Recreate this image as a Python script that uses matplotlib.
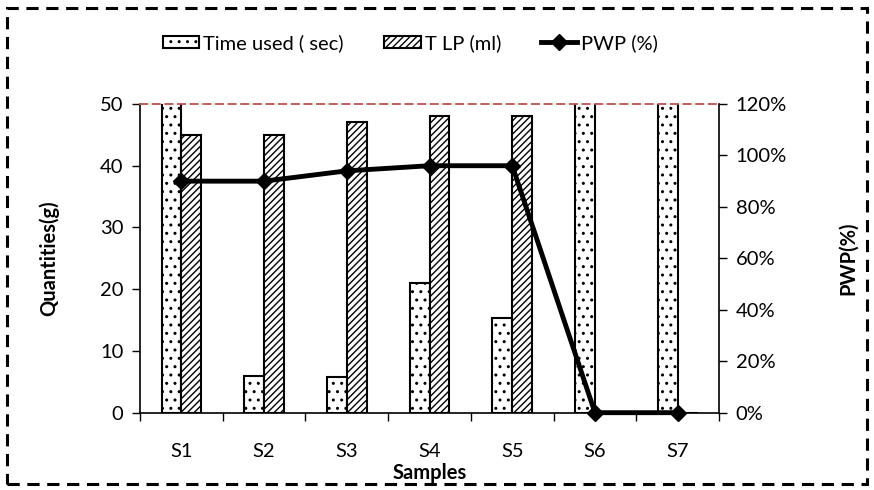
import matplotlib
matplotlib.use("Agg")
import matplotlib.pyplot as plt
import numpy as np
from matplotlib.ticker import PercentFormatter, FixedLocator
from matplotlib.lines import Line2D
from matplotlib.patches import Patch, Rectangle

plt.rcParams['font.family'] = ['Lato', 'DejaVu Sans']
plt.rcParams['hatch.linewidth'] = 1.0

categories = ["S1", "S2", "S3", "S4", "S5", "S6", "S7"]
time_used = [60, 6.0, 5.8, 21.0, 15.3, 60, 60]
tlp = [45, 45, 47, 48, 48, 0, 0]
pwp = [0.90, 0.90, 0.94, 0.96, 0.96, 0.0, 0.0]
y_ticks = [0, 10, 20, 30, 40, 50]
y2_ticks = [0, 0.2, 0.4, 0.6, 0.8, 1.0, 1.2]

FS = 14.5

fig = plt.figure(figsize=(8.74, 4.9), dpi=100)
ax = fig.add_axes([0.1602, 0.1578, 0.6625, 0.63])
x = np.arange(len(categories))
w = 0.24
ax.bar(x - w / 2, time_used, w, facecolor='white', edgecolor='black',
       linewidth=1.5, hatch='..', label='Time used ( sec)')
ax.bar(x + w / 2, tlp, w, facecolor='white', edgecolor='black',
       linewidth=1.5, hatch='/////', label='T LP (ml)')
ax.set_ylim(0, 50)
ax.set_xlim(-0.5, len(categories) - 0.5)
ax.set_yticks(y_ticks)
ax.set_xticks(x)
ax.set_xticklabels(categories)
ax.xaxis.set_minor_locator(FixedLocator(np.arange(-0.5, len(categories), 1.0)))
ax.tick_params(axis='x', which='major', length=0, pad=22, labelsize=FS)
ax.tick_params(axis='x', which='minor', length=6, width=1, direction='out')
ax.tick_params(axis='y', length=6, width=1, direction='out', labelsize=FS, pad=6)

for s in ['left', 'bottom', 'right']:
    ax.spines[s].set_color('black')
    ax.spines[s].set_linewidth(1.2)
ax.spines['top'].set_color('#c0504d')
ax.spines['top'].set_linestyle((0, (4, 3)))
ax.spines['top'].set_linewidth(1.3)

ax2 = ax.twinx()
ax2.plot(x, pwp, color='black', linewidth=3.5, marker='D', markersize=8,
         clip_on=False, zorder=5)
ax2.set_ylim(0, 1.2)
ax2.set_yticks(y2_ticks)
ax2.yaxis.set_major_formatter(PercentFormatter(1.0, decimals=0))
ax2.tick_params(axis='y', length=6, width=1, direction='out', labelsize=FS, pad=6)
for s in ax2.spines.values():
    s.set_visible(False)

ax.set_ylabel('Quantities(g)', fontsize=FS, fontweight='bold')
ax.yaxis.set_label_coords(-0.14, 0.5)
ax2.set_ylabel('PWP(%)', fontsize=FS, fontweight='bold')
ax2.yaxis.set_label_coords(1.205, 0.5)
ax.set_xlabel('Samples', fontsize=FS, fontweight='bold')
ax.xaxis.set_label_coords(0.5, -0.163)

handles = [
    Patch(facecolor='white', edgecolor='black', hatch='..', linewidth=1.5),
    Patch(facecolor='white', edgecolor='black', hatch='/////', linewidth=1.5),
    Line2D([0], [0], color='black', linewidth=3.5, marker='D', markersize=8),
]
labels = ['Time used ( sec)', 'T LP (ml)', 'PWP (%)']
fig.legend(handles, labels, loc='center', bbox_to_anchor=(0.47, 0.912),
           ncol=3, frameon=False, fontsize=FS, handlelength=1.8,
           handleheight=0.6, handletextpad=0.2, columnspacing=2.0)

border = Rectangle((0.008, 0.012), 0.984, 0.972, transform=fig.transFigure,
                   fill=False, edgecolor='black', linewidth=2.2,
                   linestyle=(0, (4, 2.5)))
fig.patches.append(border)

fig.savefig('out.png', dpi=100)
